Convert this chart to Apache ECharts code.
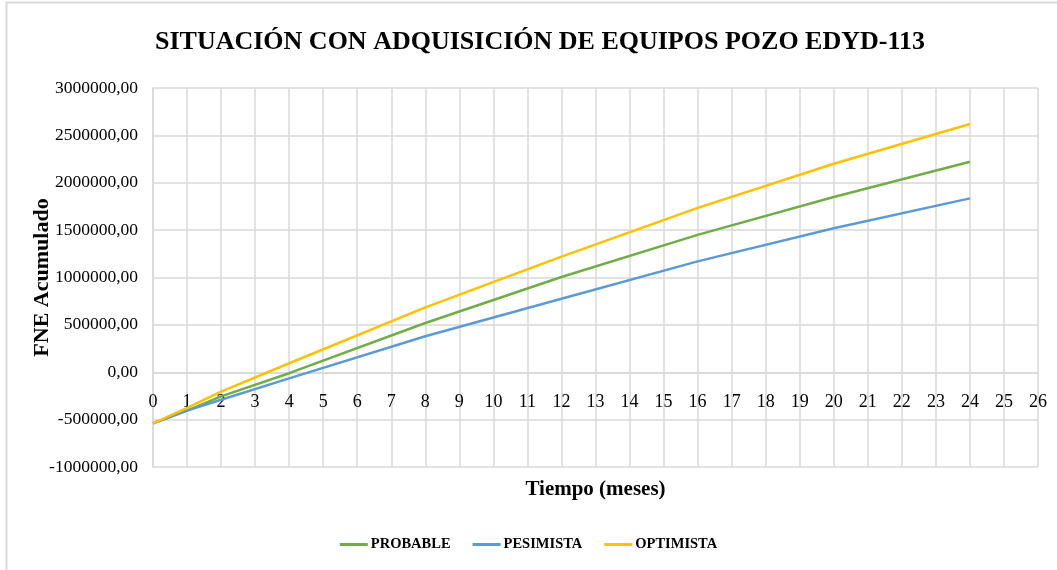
<!DOCTYPE html>
<html lang="es">
<head>
    <meta charset="UTF-8">
    <title>FNE Acumulado</title>
    <script type="text/javascript" src="https://cdn.jsdelivr.net/npm/echarts@6/dist/echarts.min.js"></script>
    <style>
        html, body { margin: 0; padding: 0; background: #fff; }
    </style>
</head>
<body>
<div id="main" style="width: 1057px;height:570px;"></div>
<script type="text/javascript">
    // meses
    var meses = [0, 1, 2, 4, 8, 12, 16, 20, 24];
    var probable  = [-540000, -405000, -255000, -10000, 520000, 1005000, 1450000, 1850000, 2222000];
    var pesimista = [-540000, -405000, -290000, -65000, 380000, 775000, 1170000, 1520000, 1835000];
    var optimista = [-540000, -375000, -205000, 95000, 685000, 1220000, 1735000, 2200000, 2620000];

    function pares(vals) {
        return meses.map(function (m, i) { return [m, vals[i]]; });
    }

    var fuente = 'Liberation Serif';
    var gris = '#d9d9d9';

    var myChart = echarts.init(document.getElementById('main'));

    var option = {
        animation: false,
        backgroundColor: '#fff',
        title: {
            text: 'SITUACIÓN CON ADQUISICIÓN DE EQUIPOS POZO EDYD-113',
            left: 535,
            textAlign: 'center',
            top: 24,
            textStyle: {fontFamily: fuente, fontWeight: 'bold', fontSize: 26, color: '#000'}
        },
        graphic: [{
            type: 'rect',
            shape: {x: 6.5, y: 2.5, width: 1200, height: 700},
            style: {fill: null, stroke: gris, lineWidth: 2},
            silent: true
        }],
        legend: {
            bottom: 13,
            left: 'center',
            icon: 'rect',
            itemWidth: 28,
            itemHeight: 3,
            itemGap: 22,
            textStyle: {fontFamily: fuente, fontWeight: 'bold', fontSize: 14.5, color: '#000', padding: [0, 0, 0, -2]},
            data: ['PROBABLE', 'PESIMISTA', 'OPTIMISTA']
        },
        grid: {left: 153, right: 19, top: 88, bottom: 103, containLabel: false, outerBoundsMode: 'none'},
        xAxis: {
            type: 'value',
            min: 0,
            max: 26,
            interval: 1,
            // el eje horizontal cruza en 0, a 94 px sobre el borde inferior
            offset: -94,
            name: 'Tiempo (meses)',
            nameLocation: 'middle',
            nameGap: 106,
            nameMoveOverlap: false,
            nameTextStyle: {fontFamily: fuente, fontWeight: 'bold', fontSize: 21, color: '#000'},
            axisLine: {onZero: false, lineStyle: {color: gris, width: 1.5}},
            axisTick: {show: false},
            axisLabel: {margin: 20, fontFamily: fuente, fontSize: 18, color: '#000'},
            splitLine: {show: true, lineStyle: {color: gris, width: 1.5}}
        },
        yAxis: {
            type: 'value',
            min: -1000000,
            max: 3000000,
            interval: 500000,
            name: 'FNE Acumulado',
            nameLocation: 'middle',
            nameGap: 100,
            nameMoveOverlap: false,
            nameTextStyle: {fontFamily: fuente, fontWeight: 'bold', fontSize: 22, color: '#000'},
            axisLine: {show: true, onZero: false, lineStyle: {color: gris, width: 1.5}},
            axisTick: {show: false},
            axisLabel: {
                margin: 15,
                fontFamily: fuente,
                fontSize: 17.5,
                color: '#000',
                formatter: function (v) { return v + ',00'; }
            },
            splitLine: {show: true, lineStyle: {color: gris, width: 1.5}}
        },
        series: [
            {name: 'PROBABLE', type: 'line', data: pares(probable), showSymbol: false,
                lineStyle: {color: '#70AD47', width: 2.5}, itemStyle: {color: '#70AD47'}},
            {name: 'PESIMISTA', type: 'line', data: pares(pesimista), showSymbol: false,
                lineStyle: {color: '#5B9BD5', width: 2.5}, itemStyle: {color: '#5B9BD5'}},
            {name: 'OPTIMISTA', type: 'line', data: pares(optimista), showSymbol: false,
                lineStyle: {color: '#FFC000', width: 2.5}, itemStyle: {color: '#FFC000'}}
        ]
    };

    myChart.setOption(option);
</script>
</body>
</html>
